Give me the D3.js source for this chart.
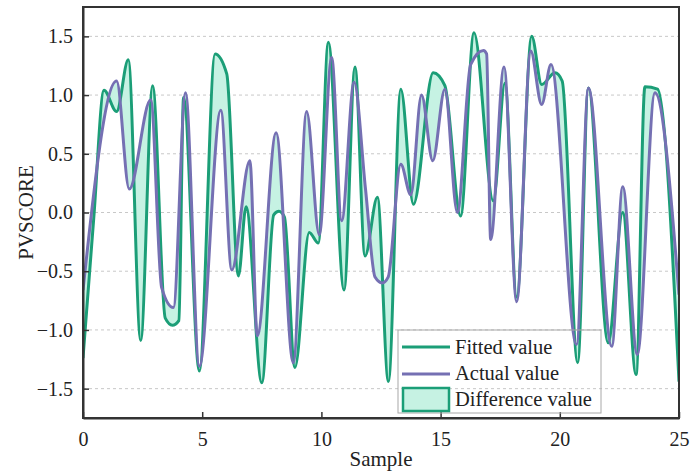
<!DOCTYPE html>
<html lang="en">
<head>
<meta charset="utf-8">
<title>PVSCORE fitted vs actual</title>
<script src="https://d3js.org/d3.v7.min.js"></script>
<style type="text/css">
    body { margin: 0; background: #fff; }
    .grid line { stroke: #c8c8c8; stroke-dasharray: 3,3; stroke-width: 1; }
    .axis path, .axis line { stroke: #333; }
</style>
</head>
<body>
<script>

// data (sample, PVSCORE)
let fittedX = [0, 0.45, 0.88, 1.41, 1.90, 2.42, 2.92, 3.45, 3.75, 4.02, 4.22, 4.88, 5.54, 6.03,
               6.52, 6.84, 7.50, 8.0, 8.22, 8.45, 8.89, 9.49, 9.87, 10.29, 10.95, 11.41, 11.83, 12.35,
               12.81, 13.33, 13.86, 14.69, 15.18, 15.84, 16.40, 17.21, 17.70, 18.19, 18.82,
               19.24, 19.8, 20.1, 20.75, 21.2, 22.03, 22.64, 23.2, 23.57, 24.1, 25];
let fittedY = [-1.24, -0.05, 1.04, 0.86, 1.30, -1.09, 1.08, -0.90, -0.96, -0.92, 0.98, -1.35, 1.35, 1.18,
               -0.54, 0.05, -1.45, -0.02, 0.01, -0.04, -1.32, -0.17, -0.26, 1.45, -0.66, 1.24, -0.37, 0.13,
               -1.44, 1.05, 0.07, 1.19, 1.08, -0.03, 1.53, 0.10, 1.10, -0.72, 1.50,
               1.09, 1.19, 1.12, -1.28, 1.06, -1.11, 0.0, -1.38, 1.07, 1.05, -1.44];

let actualX = [0, 1.41, 1.94, 2.84, 3.3, 3.79, 4.3, 4.88, 5.78, 6.24, 7.0, 7.31, 8.1, 8.82, 9.38,
               9.91, 10.43, 10.85, 11.37, 11.85, 12.25, 12.55, 12.8, 13.33, 13.75, 14.2, 14.67,
               15.18, 15.7, 16.26, 16.8, 16.93, 17.1, 17.66, 18.19, 18.78, 19.24, 19.63, 20.7,
               21.2, 22.18, 22.64, 23.25, 23.99, 25];
let actualY = [-0.66, 1.12, 0.20, 0.96, -0.64, -0.81, 1.02, -1.31, 0.87, -0.49, 0.44, -1.05, 0.68, -1.28, 0.86,
               -0.19, 1.32, -0.07, 1.11, 0.2, -0.55, -0.6, -0.55, 0.41, 0.15, 1.0, 0.44,
               1.05, 0.0, 1.26, 1.38, 1.35, -0.23, 1.24, -0.76, 1.375, 0.92, 1.26, -1.125,
               1.06, -1.14, 0.22, -1.21, 1.02, -0.7];

let xTicks = [0, 5, 10, 15, 20, 25];
let yTicks = [-1.5, -1.0, -0.5, 0.0, 0.5, 1.0, 1.5];
let legendLabels = ["Fitted value", "Actual value", "Difference value"];

let fitted = fittedX.map((x, i) => ({ x: x, y: fittedY[i] }));
let actual = actualX.map((x, i) => ({ x: x, y: actualY[i] }));

let serif = "'Liberation Serif', 'Times New Roman', Times, 'DejaVu Serif', serif";
let colFit = "#1b9e77",
    colAct = "#7570b3",
    colFill = "#c6f2e3";

let realW = 691, realH = 473;
let margin = { top: 7, right: 12, bottom: 55, left: 83 };
let w = realW - margin.left - margin.right,
    h = realH - margin.top - margin.bottom;

let xScale = d3.scaleLinear().domain([0, 25]).range([0, w]);
let yScale = d3.scaleLinear().domain([-1.75, 1.75]).range([h, 0]);

let svg = d3.select("body")
    .append("svg")
    .attr("width", realW)
    .attr("height", realH);

let g = svg.append("g")
    .attr("transform", "translate(" + margin.left + "," + margin.top + ")");

// dashed horizontal grid
g.append("g")
    .attr("class", "grid")
    .selectAll("line")
    .data(yTicks)
    .enter()
    .append("line")
    .attr("x1", 0).attr("x2", w)
    .attr("y1", d => yScale(d)).attr("y2", d => yScale(d));

// legend box sits under the curves (the curves run over it)
let lg = svg.append("g").attr("transform", "translate(398,330)");
lg.append("rect")
    .attr("width", 203).attr("height", 83)
    .attr("fill", "none")
    .attr("stroke", "#a8a8a8")
    .attr("stroke-width", 1);

let defs = svg.append("defs");
defs.append("clipPath").attr("id", "plot-clip")
    .append("rect").attr("width", w).attr("height", h);

let line = d3.line()
    .x(d => xScale(d.x)).y(d => yScale(d.y))
    .curve(d3.curveMonotoneX);

// clip regions above / below the actual curve
defs.append("clipPath").attr("id", "above-actual")
    .append("path")
    .attr("d", d3.area().x(d => xScale(d.x)).y0(0).y1(d => yScale(d.y))
        .curve(d3.curveMonotoneX)(actual));
defs.append("clipPath").attr("id", "below-actual")
    .append("path")
    .attr("d", d3.area().x(d => xScale(d.x)).y0(h).y1(d => yScale(d.y))
        .curve(d3.curveMonotoneX)(actual));

let plot = g.append("g").attr("clip-path", "url(#plot-clip)");

// difference fill = (below fitted & above actual) + (above fitted & below actual)
plot.append("path")
    .attr("clip-path", "url(#above-actual)")
    .attr("fill", colFill)
    .attr("d", d3.area().x(d => xScale(d.x)).y0(h).y1(d => yScale(d.y))
        .curve(d3.curveMonotoneX)(fitted));
plot.append("path")
    .attr("clip-path", "url(#below-actual)")
    .attr("fill", colFill)
    .attr("d", d3.area().x(d => xScale(d.x)).y0(0).y1(d => yScale(d.y))
        .curve(d3.curveMonotoneX)(fitted));

plot.append("path")
    .attr("fill", "none")
    .attr("stroke", colFit)
    .attr("stroke-width", 3)
    .attr("stroke-linejoin", "round")
    .attr("d", line(fitted));

plot.append("path")
    .attr("fill", "none")
    .attr("stroke", colAct)
    .attr("stroke-width", 3)
    .attr("stroke-linejoin", "round")
    .attr("d", line(actual));

// axes, ticks inward
let xAxis = g.append("g")
    .attr("class", "axis")
    .attr("transform", "translate(0," + h + ")")
    .call(d3.axisBottom(xScale).tickValues(xTicks).tickSizeInner(-6).tickSizeOuter(0)
        .tickFormat(d3.format("d")));
xAxis.selectAll("text").attr("dy", "1.25em");

let yAxis = g.append("g")
    .attr("class", "axis")
    .call(d3.axisLeft(yScale).tickValues(yTicks).tickSizeInner(-6).tickSizeOuter(0)
        .tickFormat(d3.format(".1f")));
yAxis.selectAll("text").attr("x", -10);

g.selectAll(".axis")
    .attr("font-family", serif)
    .attr("font-size", 20);
g.selectAll(".axis text").attr("fill", "#222");
g.selectAll(".axis path").attr("stroke-width", 2);
g.selectAll(".axis line").attr("stroke-width", 1.5);

// box frame
g.append("rect")
    .attr("width", w).attr("height", h)
    .attr("fill", "none")
    .attr("stroke", "#333")
    .attr("stroke-width", 2);

svg.append("text")
    .attr("x", margin.left + w / 2)
    .attr("y", 466)
    .attr("text-anchor", "middle")
    .attr("font-family", serif)
    .attr("font-size", 21)
    .attr("fill", "#222")
    .text("Sample");

svg.append("text")
    .attr("transform", "translate(33," + (margin.top + yScale(0)) + ") rotate(-90)")
    .attr("text-anchor", "middle")
    .attr("font-family", serif)
    .attr("font-size", 21)
    .attr("fill", "#222")
    .text("PVSCORE");

// legend keys and labels
lg.append("line").attr("x1", 4).attr("x2", 52).attr("y1", 17).attr("y2", 17)
    .attr("stroke", colFit).attr("stroke-width", 3);
lg.append("line").attr("x1", 4).attr("x2", 52).attr("y1", 44).attr("y2", 44)
    .attr("stroke", colAct).attr("stroke-width", 3);
lg.append("rect").attr("x", 5).attr("y", 58).attr("width", 46).attr("height", 23)
    .attr("fill", colFill).attr("stroke", colFit).attr("stroke-width", 2.5);

lg.selectAll("text.leg")
    .data(legendLabels)
    .enter()
    .append("text")
    .attr("class", "leg")
    .attr("x", 57)
    .attr("y", (d, i) => 24 + i * 26)
    .attr("font-family", serif)
    .attr("font-size", 20.5)
    .attr("fill", "#222")
    .text(d => d);

</script>
</body>
</html>
